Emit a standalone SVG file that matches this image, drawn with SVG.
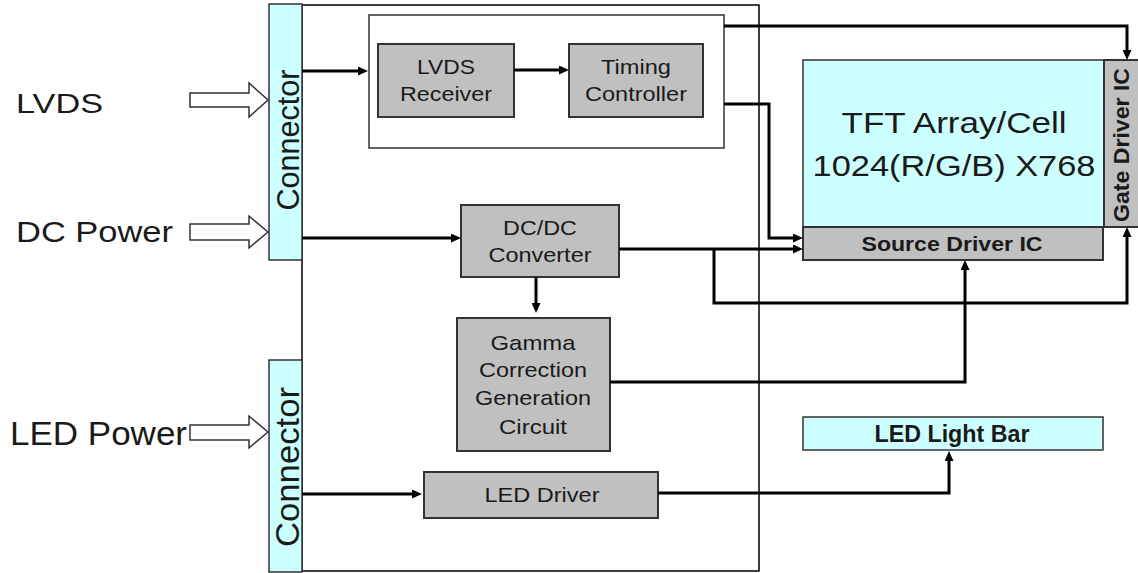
<svg xmlns="http://www.w3.org/2000/svg" width="1138" height="573" viewBox="0 0 1138 573">
<style>
.t{font-family:"Liberation Sans",Arial,sans-serif;fill:#1a1a1a}
.b{font-weight:bold}
.gray{fill:#c0c0c0;stroke:#333;stroke-width:2}
.cyan{fill:#ccffff;stroke:#333;stroke-width:1.5}
.wire{fill:none;stroke:#000;stroke-width:3;marker-end:url(#ah)}
.hollow{fill:#fff;stroke:#333;stroke-width:1.5}
.board{fill:#fff;stroke:#000;stroke-width:1.5}
</style>
<defs>
<marker id="ah" markerUnits="userSpaceOnUse" markerWidth="10" markerHeight="9" refX="4" refY="4.5" orient="auto">
<path d="M0,0 L10,4.5 L0,9 z" fill="#000"/>
</marker>
</defs>
<rect width="1138" height="573" fill="#fff"/>

<g id="board"><rect class="board" x="302" y="5" width="457" height="566"/></g>

<g id="inputs">
<polygon class="hollow" points="190,93 249,93 249,83 268,100 249,117 249,107 190,107"/>
<polygon class="hollow" points="190,224 249,224 249,216 268,232 249,248 249,240 190,240"/>
<polygon class="hollow" points="190,425 249,425 249,416 268,432 249,448 249,440 190,440"/>
<text class="t" x="16" y="113" font-size="28" textLength="87" lengthAdjust="spacingAndGlyphs">LVDS</text>
<text class="t" x="16" y="242" font-size="30" textLength="157" lengthAdjust="spacingAndGlyphs">DC Power</text>
<text class="t" x="10" y="445" font-size="33" textLength="177" lengthAdjust="spacingAndGlyphs">LED Power</text>
</g>

<g id="connector-top">
<rect class="cyan" x="269" y="4" width="33" height="256"/>
<text class="t" transform="translate(299,140) rotate(-90)" text-anchor="middle" font-size="32" textLength="141" lengthAdjust="spacingAndGlyphs">Connector</text>
</g>
<g id="connector-bottom">
<rect class="cyan" x="269" y="360" width="33" height="212"/>
<text class="t" transform="translate(299,467) rotate(-90)" text-anchor="middle" font-size="33" textLength="160" lengthAdjust="spacingAndGlyphs">Connector</text>
</g>

<g id="tcon-block"><rect x="369" y="15" width="355" height="133" fill="#fff" stroke="#333" stroke-width="1.5"/></g>

<g id="lvds-receiver">
<rect class="gray" x="378" y="44" width="136" height="73"/>
<text class="t" x="446" y="74" font-size="21" text-anchor="middle" textLength="58" lengthAdjust="spacingAndGlyphs">LVDS</text>
<text class="t" x="446" y="101" font-size="21" text-anchor="middle" textLength="92" lengthAdjust="spacingAndGlyphs">Receiver</text>
</g>
<g id="timing-controller">
<rect class="gray" x="569" y="44" width="134" height="73"/>
<text class="t" x="636" y="74" font-size="21" text-anchor="middle" textLength="70" lengthAdjust="spacingAndGlyphs">Timing</text>
<text class="t" x="636" y="101" font-size="21" text-anchor="middle" textLength="102" lengthAdjust="spacingAndGlyphs">Controller</text>
</g>
<g id="dcdc">
<rect class="gray" x="461" y="205" width="158" height="72"/>
<text class="t" x="540" y="235" font-size="21" text-anchor="middle" textLength="74" lengthAdjust="spacingAndGlyphs">DC/DC</text>
<text class="t" x="540" y="262" font-size="21" text-anchor="middle" textLength="103" lengthAdjust="spacingAndGlyphs">Converter</text>
</g>
<g id="gamma">
<rect class="gray" x="457" y="318" width="153" height="133"/>
<text class="t" x="533" y="350" font-size="21" text-anchor="middle" textLength="85" lengthAdjust="spacingAndGlyphs">Gamma</text>
<text class="t" x="533" y="377" font-size="21" text-anchor="middle" textLength="108" lengthAdjust="spacingAndGlyphs">Correction</text>
<text class="t" x="533" y="405" font-size="21" text-anchor="middle" textLength="116" lengthAdjust="spacingAndGlyphs">Generation</text>
<text class="t" x="533" y="434" font-size="21" text-anchor="middle" textLength="68" lengthAdjust="spacingAndGlyphs">Circuit</text>
</g>
<g id="led-driver">
<rect class="gray" x="424" y="472" width="234" height="46"/>
<text class="t" x="542" y="502" font-size="21" text-anchor="middle" textLength="115" lengthAdjust="spacingAndGlyphs">LED Driver</text>
</g>

<g id="tft">
<rect class="cyan" x="803" y="60" width="301" height="167"/>
<text class="t" x="954" y="133" font-size="30" text-anchor="middle" textLength="225" lengthAdjust="spacingAndGlyphs">TFT Array/Cell</text>
<text class="t" x="954" y="176" font-size="30" text-anchor="middle" textLength="283" lengthAdjust="spacingAndGlyphs">1024(R/G/B) X768</text>
</g>
<g id="gate-driver">
<rect class="gray" x="1104" y="60" width="36" height="167" stroke-width="1.5"/>
<text class="t b" transform="translate(1129,145) rotate(-90)" text-anchor="middle" font-size="22" textLength="154" lengthAdjust="spacingAndGlyphs">Gate Driver IC</text>
</g>
<g id="source-driver">
<rect class="gray" x="803" y="227" width="300" height="33" stroke-width="1.5"/>
<text class="t b" x="952" y="251" font-size="21" text-anchor="middle" textLength="181" lengthAdjust="spacingAndGlyphs">Source Driver IC</text>
</g>
<g id="led-light-bar">
<rect class="cyan" x="803" y="417" width="300" height="33"/>
<text class="t b" x="952" y="442" font-size="23" text-anchor="middle" textLength="155" lengthAdjust="spacingAndGlyphs">LED Light Bar</text>
</g>

<g id="connectors">
<polyline class="wire" points="302,71 362,71"/>
<polyline class="wire" points="514,70 563,70"/>
<polyline class="wire" points="724,26 1127,26 1127,54"/>
<polyline class="wire" points="724,104 769,104 769,238 797,238"/>
<polyline class="wire" points="302,238 455,238"/>
<polyline class="wire" points="619,249 797,249"/>
<polyline class="wire" points="714,249 714,303 1127,303 1127,233"/>
<polyline class="wire" points="536,277 536,307"/>
<polyline class="wire" points="610,382 965,382 965,266"/>
<polyline class="wire" points="302,494 416,494"/>
<polyline class="wire" points="658,493 949,493 949,457"/>
</g>
</svg>
